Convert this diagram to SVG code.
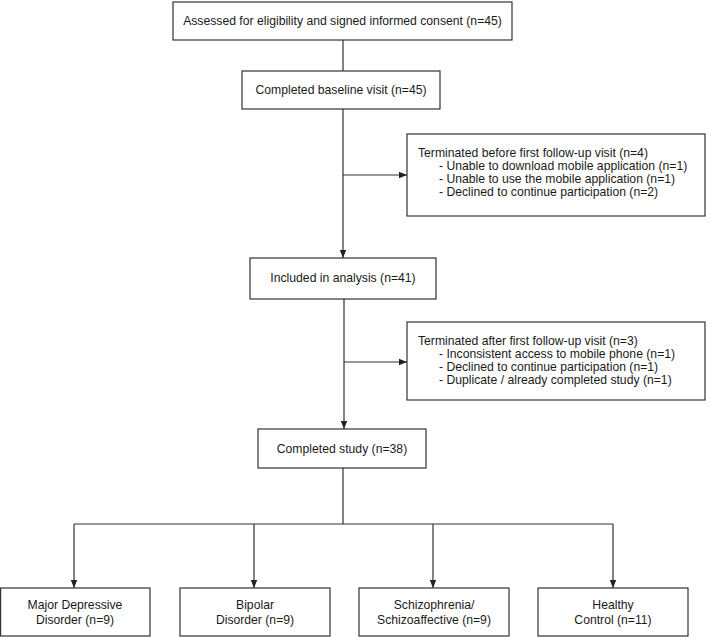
<svg xmlns="http://www.w3.org/2000/svg" width="709" height="638" viewBox="0 0 709 638">
<style>
.box{fill:#fff;stroke:#333;stroke-width:1.2}
text{font-family:"Liberation Sans",Arial,sans-serif;font-size:12.2px;fill:#1a1a1a}
.c{text-anchor:middle}
.ln{stroke:#333;stroke-width:1.2;fill:none}
</style>
<defs>
<marker id="ah" viewBox="0 0 10 10" refX="10" refY="5" markerWidth="8" markerHeight="8" markerUnits="userSpaceOnUse" orient="auto">
<path d="M0,1 L10,5 L0,9 Z" fill="#222"/>
</marker>
</defs>
<g id="connectors">
<path class="ln" d="M343,40 V71"/>
<path class="ln" d="M343,109 V258" marker-end="url(#ah)"/>
<path class="ln" d="M343,175 H407" marker-end="url(#ah)"/>
<path class="ln" d="M344,299 V429" marker-end="url(#ah)"/>
<path class="ln" d="M344,362 H407" marker-end="url(#ah)"/>
<path class="ln" d="M343,468 V524 M74,524 H613"/>
<path class="ln" d="M74,524 V588" marker-end="url(#ah)"/>
<path class="ln" d="M254,524 V588" marker-end="url(#ah)"/>
<path class="ln" d="M433,524 V588" marker-end="url(#ah)"/>
<path class="ln" d="M613,524 V588" marker-end="url(#ah)"/>
</g>
<g id="n1"><rect class="box" x="173" y="2" width="339" height="38"/><text class="c" x="342.5" y="25">Assessed for eligibility and signed informed consent (n=45)</text></g>
<g id="n2"><rect class="box" x="242" y="71" width="198" height="38"/><text class="c" x="341" y="94">Completed baseline visit (n=45)</text></g>
<g id="n3"><rect class="box" x="407" y="134" width="298" height="82"/>
<text x="418" y="157">Terminated before first follow-up visit (n=4)</text>
<text x="439" y="170">- Unable to download mobile application (n=1)</text>
<text x="439" y="183">- Unable to use the mobile application (n=1)</text>
<text x="439" y="196">- Declined to continue participation (n=2)</text></g>
<g id="n4"><rect class="box" x="250" y="258" width="186" height="41"/><text class="c" x="343" y="282">Included in analysis (n=41)</text></g>
<g id="n5"><rect class="box" x="407" y="322" width="298" height="78"/>
<text x="418" y="345">Terminated after first follow-up visit (n=3)</text>
<text x="439" y="358">- Inconsistent access to mobile phone (n=1)</text>
<text x="439" y="371">- Declined to continue participation (n=1)</text>
<text x="439" y="384">- Duplicate / already completed study (n=1)</text></g>
<g id="n6"><rect class="box" x="258" y="429" width="168" height="39"/><text class="c" x="342" y="453">Completed study (n=38)</text></g>
<g id="n7"><rect class="box" x="0.6" y="588" width="149.4" height="48"/><text class="c" x="75" y="609">Major Depressive</text><text class="c" x="75" y="624">Disorder (n=9)</text></g>
<g id="n8"><rect class="box" x="180" y="588" width="150" height="48"/><text class="c" x="255" y="609">Bipolar</text><text class="c" x="255" y="624">Disorder (n=9)</text></g>
<g id="n9"><rect class="box" x="359" y="588" width="150" height="48"/><text class="c" x="434" y="609">Schizophrenia/</text><text class="c" x="434" y="624">Schizoaffective (n=9)</text></g>
<g id="n10"><rect class="box" x="538" y="588" width="150" height="48"/><text class="c" x="613" y="609">Healthy</text><text class="c" x="613" y="624">Control (n=11)</text></g>
</svg>
